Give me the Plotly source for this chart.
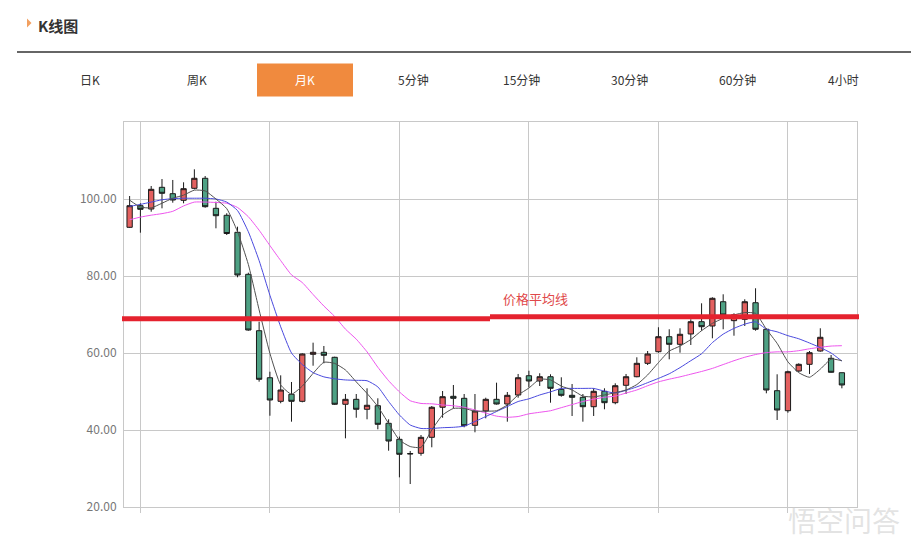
import plotly.graph_objects as go

# ---------------- data (monthly K) ----------------
idx = list(range(67))
opens = [92.65, 98.26, 97.40, 103.04, 101.38, 99.66, 102.78, 105.38, 97.58, 95.77,
         91.35, 80.44, 65.79, 53.58, 47.45, 49.27, 47.45, 59.66, 60.18, 58.88,
         46.68, 47.97, 45.38, 46.31, 41.74, 37.58, 33.90, 33.95, 38.10, 45.90,
         48.75, 48.23, 41.22, 44.94, 47.97, 46.75, 49.09, 54.10, 52.73, 53.84,
         50.57, 49.01, 48.49, 46.05, 50.05, 47.09, 51.61, 53.84, 57.32, 60.34,
         64.23, 62.26, 64.94, 68.13, 67.01, 73.32, 68.40, 68.75, 73.06, 66.16,
         50.21, 45.01, 55.32, 57.06, 60.52, 58.62, 54.88]
highs = [100.78, 98.88, 103.38, 105.19, 104.94, 104.34, 107.71, 105.97, 99.30, 96.30,
         92.81, 80.86, 68.13, 55.14, 54.20, 52.47, 59.90, 62.68, 61.82, 59.04,
         49.35, 49.35, 50.83, 48.23, 42.78, 38.30, 34.55, 38.70, 46.23, 50.13,
         51.69, 49.35, 49.35, 48.39, 52.29, 49.87, 54.55, 55.40, 54.73, 54.47,
         53.69, 51.95, 49.35, 50.83, 50.83, 52.13, 54.55, 58.88, 60.52, 66.68,
         66.16, 66.42, 68.75, 72.91, 74.47, 75.25, 70.31, 73.95, 76.81, 66.42,
         54.47, 55.40, 57.32, 60.52, 66.42, 59.48, 54.90]
lows = [92.50, 91.25, 96.70, 97.58, 99.04, 98.88, 102.52, 97.74, 92.39, 90.65,
        79.66, 65.79, 52.55, 43.71, 46.94, 42.16, 47.19, 56.70, 57.32, 46.49,
        37.84, 43.19, 42.78, 40.18, 34.62, 27.71, 25.97, 33.32, 35.51, 43.19,
        45.64, 40.70, 39.40, 43.04, 46.60, 42.16, 48.39, 51.09, 51.43, 47.09,
        48.65, 43.64, 42.16, 43.64, 45.38, 46.68, 49.35, 53.70, 56.88, 60.08,
        58.36, 60.08, 62.08, 65.79, 63.82, 66.16, 64.49, 67.01, 65.79, 49.53,
        42.60, 44.49, 55.10, 54.55, 60.34, 54.90, 50.83]
closes = [98.26, 97.32, 102.52, 101.48, 99.74, 102.68, 105.38, 98.00, 95.66, 91.04,
          80.26, 65.97, 53.17, 47.79, 50.39, 47.45, 59.74, 60.18, 59.40, 46.68,
          47.97, 45.38, 46.42, 41.48, 37.14, 33.69, 33.80, 38.10, 45.90, 48.65,
          48.23, 41.12, 44.94, 47.97, 46.75, 49.01, 53.58, 52.73, 53.84, 50.83,
          49.01, 48.49, 46.05, 50.05, 47.09, 51.51, 53.84, 57.32, 59.74, 64.23,
          62.26, 64.86, 68.13, 66.83, 74.21, 69.87, 69.90, 73.32, 66.16, 50.39,
          45.19, 55.14, 57.06, 60.08, 64.08, 54.99, 51.69]

ma5 = [99.7, 97.9, 97.7, 98.9, 100.2, 101.0, 102.3, 102.1, 100.0, 97.5,
       91.5, 83.0, 71.2, 59.9, 51.7, 49.3, 51.4, 54.7, 57.6, 57.3,
       55.6, 52.5, 49.5, 46.1, 41.7, 37.4, 35.7, 35.5, 40.0, 43.9,
       45.6, 45.6, 44.9, 44.9, 45.0, 46.5, 49.1, 50.9, 53.2, 53.0,
       51.4, 50.4, 48.8, 48.6, 49.1, 49.7, 50.4, 51.8, 54.3, 57.5,
       60.5, 61.8, 63.5, 65.8, 67.7, 69.0, 69.9, 70.5, 70.3, 66.2,
       62.5, 57.7, 54.9, 53.7, 55.8, 58.4, 58.0]
ma10 = [98.1, 98.6, 99.2, 99.8, 100.1, 100.2, 100.2, 100.2, 100.0, 99.2,
        97.0, 91.5, 84.0, 75.0, 66.8, 60.0, 57.0, 54.9, 53.8, 53.3,
        53.0, 52.9, 52.8, 51.2, 47.4, 43.9, 41.3, 40.4, 40.4, 40.6,
        40.7, 41.0, 42.2, 43.5, 44.8, 46.1, 47.4, 48.1, 49.1, 49.9,
        50.8, 50.8, 50.8, 50.8, 50.1, 49.6, 50.3, 51.2, 52.3, 53.4,
        54.6, 56.2, 58.0, 59.8, 62.7, 64.9, 66.4, 67.5, 68.1, 66.2,
        65.5, 64.5, 63.7, 62.6, 61.4, 60.0, 57.9]
ma20 = [94.6, 95.3, 95.8, 96.2, 96.8, 98.2, 99.2, 99.2, 99.1, 98.9,
        97.8, 95.4, 91.9, 87.9, 84.0, 80.3, 78.3, 75.2, 72.2, 69.5,
        66.2, 63.6, 60.3, 56.3, 52.8, 49.9, 47.6, 46.9, 46.8, 46.5,
        46.3, 45.9, 45.2, 44.4, 43.6, 43.3, 43.5, 44.2, 44.6, 45.0,
        45.8, 46.6, 47.4, 48.0, 48.5, 48.8, 49.6, 50.4, 51.5, 52.5,
        53.2, 53.8, 54.5, 55.2, 56.0, 57.0, 58.0, 58.9, 59.6, 60.1,
        60.3, 60.3, 60.6, 61.1, 61.5, 61.8, 61.9]

y_ticks = [20, 40, 60, 80, 100]
x_grid = [1, 13, 25, 37, 49, 61]
avg_line_left = 68.9
avg_line_right = 69.4
avg_label = "价格平均线"
title_text = "K线图"
tabs = ["日K", "周K", "月K", "5分钟", "15分钟", "30分钟", "60分钟", "4小时"]
active_tab = "月K"

# ---------------- layout helpers (page pixel -> paper) ----------------
OFF = 8                       # page body margin in the browser
W, H = 919 - OFF, 552 - OFF
ML, MR, MT, MB = 124 - OFF, 62, 122 - OFF, 45
PW, PH = W - ML - MR, H - MT - MB
def px(x):
    return (x - OFF - ML) / PW
def py(y):
    return (H - MB - (y - OFF)) / PH

FONT = "Noto Sans CJK SC, Open Sans, sans-serif"
GRID = "#c8c8c8"

fig = go.Figure()
fig.add_trace(go.Candlestick(
    x=idx, open=opens, high=highs, low=lows, close=closes,
    increasing=dict(line=dict(color="#1a1a1a", width=1), fillcolor="#e3605f"),
    decreasing=dict(line=dict(color="#1a1a1a", width=1), fillcolor="#4ea184"),
    whiskerwidth=0, showlegend=False, hoverinfo="skip"))
fig.add_trace(go.Scatter(x=idx, y=ma20, mode="lines",
                         line=dict(color="#ee55ee", width=1, shape="spline", smoothing=0.5),
                         showlegend=False, hoverinfo="skip"))
fig.add_trace(go.Scatter(x=idx, y=ma10, mode="lines",
                         line=dict(color="#4a4ade", width=1, shape="spline", smoothing=0.5),
                         showlegend=False, hoverinfo="skip"))
fig.add_trace(go.Scatter(x=idx, y=ma5, mode="lines",
                         line=dict(color="#505050", width=1, shape="spline", smoothing=0.5),
                         showlegend=False, hoverinfo="skip"))

shapes = []
shapes.append(dict(type="line", xref="paper", yref="paper",
                   x0=px(17), x1=px(919), y0=py(52), y1=py(52),
                   line=dict(color="#333333", width=1.5)))
shapes.append(dict(type="path", xref="paper", yref="paper",
                   path=f"M {px(27)} {py(18.5)} L {px(31.5)} {py(23)} L {px(27)} {py(27.5)} Z",
                   fillcolor="#f2a060", line=dict(width=0)))
shapes.append(dict(type="rect", xref="paper", yref="paper",
                   x0=px(257), x1=px(353), y0=py(96.5), y1=py(63.5),
                   fillcolor="#f08a3e", line=dict(width=0)))
shapes.append(dict(type="line", xref="paper", yref="y",
                   x0=px(122), x1=px(490), y0=avg_line_left, y1=avg_line_left,
                   line=dict(color="#e5222e", width=5), layer="above"))
shapes.append(dict(type="line", xref="paper", yref="y",
                   x0=px(490), x1=px(859), y0=avg_line_right, y1=avg_line_right,
                   line=dict(color="#e5222e", width=5), layer="above"))

annotations = []
annotations.append(dict(text=f"<b>{title_text}</b>", xref="paper", yref="paper",
                        x=px(36), y=py(25), xanchor="left", yanchor="middle",
                        showarrow=False, font=dict(family=FONT, size=15, color="#333333")))
tab_x = [90, 197, 305, 413, 521, 629, 737, 843]
for t, tx in zip(tabs, tab_x):
    annotations.append(dict(text=t, xref="paper", yref="paper", x=px(tx), y=py(80),
                            xanchor="center", yanchor="middle", showarrow=False,
                            font=dict(family=FONT, size=12,
                                      color="#ffffff" if t == active_tab else "#333333")))
annotations.append(dict(text=avg_label, xref="paper", yref="paper", x=px(535), y=py(298),
                        xanchor="center", yanchor="middle", showarrow=False,
                        font=dict(family=FONT, size=13, color="#e0484a")))
annotations.append(dict(text="悟空问答", xref="paper", yref="paper", x=px(902), y=py(520),
                        xanchor="right", yanchor="middle", showarrow=False,
                        font=dict(family=FONT, size=28, color="rgba(215,215,215,0.7)")))

fig.update_layout(
    width=W, height=H,
    margin=dict(l=ML, r=MR, t=MT, b=MB, pad=0),
    paper_bgcolor="white", plot_bgcolor="white",
    shapes=shapes, annotations=annotations,
    font=dict(family=FONT),
    xaxis=dict(range=[-0.52, 67.4], rangeslider=dict(visible=False),
               tickmode="array", tickvals=x_grid, showticklabels=False,
               ticks="outside", ticklen=5, tickcolor=GRID,
               showgrid=True, gridcolor=GRID, gridwidth=1,
               showline=True, linecolor=GRID, linewidth=1, mirror=True,
               zeroline=False, fixedrange=True),
    yaxis=dict(range=[20, 120], tickmode="array", tickvals=y_ticks,
               ticktext=[f"{v:.2f}" for v in y_ticks],
               tickfont=dict(family=FONT, size=12, color="#777777"),
               showgrid=True, gridcolor=GRID, gridwidth=1,
               showline=True, linecolor=GRID, linewidth=1, mirror=True,
               zeroline=False, ticks="", ticklabelstandoff=4, fixedrange=True),
)

fig.write_html("out.html")
